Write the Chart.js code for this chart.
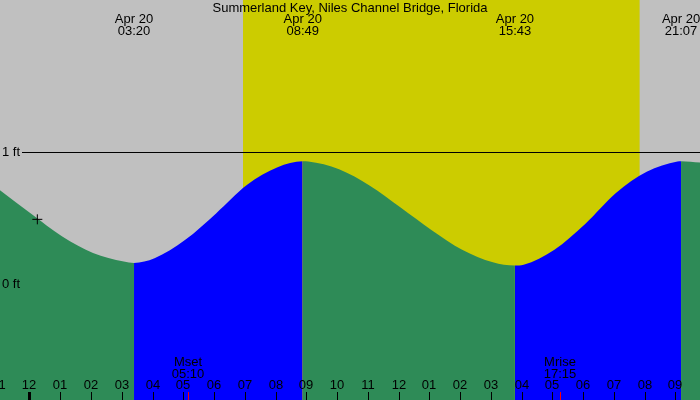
<!DOCTYPE html>
<html>
<head>
<meta charset="utf-8">
<script src="https://cdn.jsdelivr.net/npm/chart.js@4/dist/chart.umd.min.js"></script>
<style>
  html, body { margin: 0; padding: 0; background: #c0c0c0; }
  canvas { display: block; }
</style>
</head>
<body>
<canvas id="tideChart" width="700" height="400"></canvas>
<script>
// hours since midnight Apr 20 / height in ft
const tideHours = [-1.024, 0, 1, 2, 3, 3.333, 4, 5, 6, 7, 8, 8.817, 9, 10, 11, 12, 13, 14, 15, 15.717, 16, 17, 18, 19, 20, 21, 21.117, 21.733];
const tideFeet  = [0.71, 0.53, 0.36, 0.235, 0.17, 0.16, 0.195, 0.335, 0.535, 0.75, 0.885, 0.93, 0.928, 0.87, 0.745, 0.58, 0.41, 0.26, 0.165, 0.14, 0.146, 0.26, 0.455, 0.69, 0.85, 0.928, 0.93, 0.92];

// high / low tide events
const tideEventHours  = [3.333, 8.817, 15.717, 21.117];
const tideEventTimes  = ['03:20', '08:49', '15:43', '21:07'];
const tideEventDate   = 'Apr 20';

// sun and moon
const sunriseHour = 6.876;
const sunsetHour  = 19.77;
const moonHours  = [5.167, 17.25];
const moonNames  = ['Mset', 'Mrise'];
const moonTimes  = ['05:10', '17:15'];

// current time marker
const nowHour = 0.19;
const nowFeet = 0.49;

// bottom hour axis
const hourTicks  = [-1, 0, 1, 2, 3, 4, 5, 6, 7, 8, 9, 10, 11, 12, 13, 14, 15, 16, 17, 18, 19, 20, 21];
const hourLabels = ['11', '12', '01', '02', '03', '04', '05', '06', '07', '08', '09', '10', '11', '12', '01', '02', '03', '04', '05', '06', '07', '08', '09'];

const yTicks  = [1, 0];
const yLabels = ['1 ft', '0 ft'];

const title = 'Summerland Key, Niles Channel Bridge, Florida';

const X_MIN = -1.024, X_MAX = 21.733;
const Y_MIN = -0.879, Y_MAX = 2.152;
const FONT = '13px "Liberation Sans", Arial, sans-serif';

// falling water green, rising water blue
function phaseColor(hour) {
    let n = 0;
    tideEventHours.forEach(h => { if (hour >= h - 1e-6) n++; });
    return n % 2 === 0 ? '#2e8b57' : '#0000ff';
}

const tidePoints = tideHours.map((h, i) => ({ x: h, y: tideFeet[i] }));

const decor = {
    id: 'decor',
    beforeDatasetsDraw(chart) {
        const { ctx, chartArea: a, scales: { x, y } } = chart;
        ctx.save();
        ctx.fillStyle = '#c0c0c0';
        ctx.fillRect(a.left, a.top, a.right - a.left, a.bottom - a.top);
        const x1 = x.getPixelForValue(sunriseHour);
        const x2 = x.getPixelForValue(sunsetHour);
        ctx.fillStyle = '#cccc00';
        ctx.fillRect(x1, a.top, x2 - x1, a.bottom - a.top);

        // 1 ft reference line
        const y1 = Math.round(y.getPixelForValue(1)) + 0.5;
        ctx.strokeStyle = '#000';
        ctx.lineWidth = 1;
        ctx.beginPath();
        ctx.moveTo(22, y1);
        ctx.lineTo(a.right, y1);
        ctx.stroke();
        ctx.restore();
    },
    afterDatasetsDraw(chart) {
        const { ctx, scales: { x, y } } = chart;
        ctx.save();
        ctx.font = FONT;
        ctx.fillStyle = '#000';
        ctx.textBaseline = 'middle';

        ctx.textAlign = 'center';
        ctx.fillText(title, 350, 8);

        tideEventHours.forEach((h, i) => {
            const px = x.getPixelForValue(h);
            ctx.fillText(tideEventDate, px, 19);
            ctx.fillText(tideEventTimes[i], px, 31);
        });

        ctx.textAlign = 'left';
        yTicks.forEach((v, i) => ctx.fillText(yLabels[i], 2, y.getPixelForValue(v)));

        // hour ticks along the bottom
        ctx.textAlign = 'center';
        hourTicks.forEach((h, i) => {
            const px = Math.round(x.getPixelForValue(h)) - 2;
            ctx.fillStyle = '#000';
            if (h === 0) ctx.fillRect(px - 1, 392, 3, 8);
            else ctx.fillRect(px, 392, 1, 8);
            ctx.fillText(hourLabels[i], px, 385);
        });

        // moon events
        moonHours.forEach((h, i) => {
            const px = Math.round(x.getPixelForValue(h)) - 2;
            ctx.fillStyle = '#000';
            ctx.fillText(moonNames[i], px, 362);
            ctx.fillText(moonTimes[i], px, 374);
            ctx.fillStyle = '#ff0000';
            ctx.fillRect(px, 392, 1, 8);
        });
        ctx.restore();
    }
};

new Chart(document.getElementById('tideChart'), {
    type: 'line',
    data: {
        datasets: [
            {
                type: 'scatter',
                data: [{ x: nowHour, y: nowFeet }],
                pointStyle: 'cross',
                pointRadius: 5,
                borderColor: '#000',
                borderWidth: 1,
                order: 0
            },
            {
                data: tidePoints,
                borderColor: 'transparent',
                borderWidth: 0,
                pointRadius: 0,
                cubicInterpolationMode: 'monotone',
                fill: 'start',
                backgroundColor: '#2e8b57',
                segment: {
                    backgroundColor: c => phaseColor(tideHours[c.p0DataIndex])
                },
                order: 1
            }
        ]
    },
    options: {
        responsive: false,
        animation: false,
        layout: { padding: 0, autoPadding: false },
        plugins: { legend: { display: false }, tooltip: { enabled: false } },
        scales: {
            x: { type: 'linear', min: X_MIN, max: X_MAX, display: false },
            y: { type: 'linear', min: Y_MIN, max: Y_MAX, display: false }
        }
    },
    plugins: [decor]
});
</script>
</body>
</html>
